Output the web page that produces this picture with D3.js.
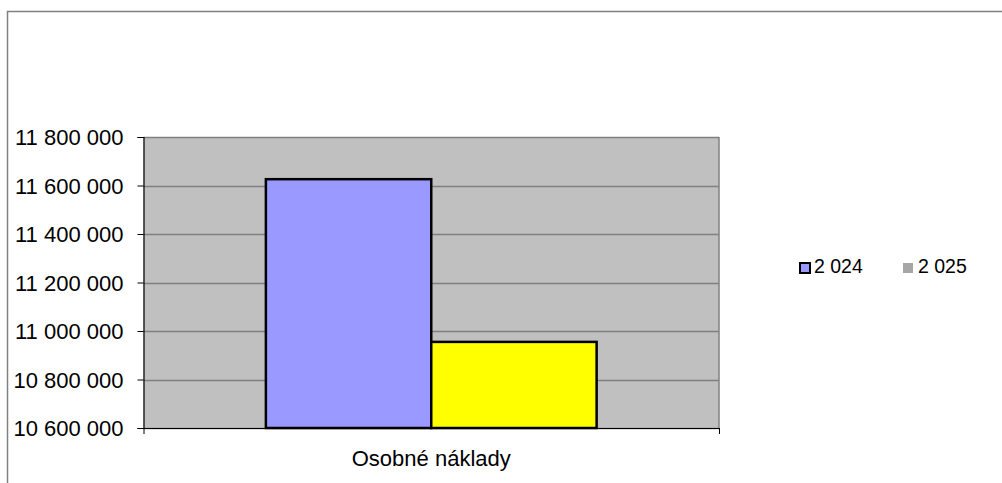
<!DOCTYPE html>
<html>
<head>
<meta charset="utf-8">
<title>Osobné náklady</title>
<style>
body {
  margin: 0;
  padding: 0;
  background: #fff;
  font-family: "Liberation Sans", Arial, sans-serif;
}
svg { display: block; }
.tick-label { font-size: 22px; fill: #000; }
.cat-label { font-size: 22px; fill: #000; }
.legend-label { font-size: 19.5px; fill: #000; }
</style>
<script src="https://d3js.org/d3.v7.min.js"></script>
</head>
<body>
<svg id="chart" width="1002" height="483"></svg>
<script>
  // data
  const categories = ["Osobné náklady"];
  const seriesNames = ["2 024", "2 025"];
  const values2024 = [11626000];
  const values2025 = [10955000];
  const yTicks = [10600000, 10800000, 11000000, 11200000, 11400000, 11600000, 11800000];

  const barColors = ["#9999ff", "#ffff00"];
  const legendColors = ["#9999ff", "#a6a6a6"];

  const svg = d3.select("#chart");
  const plot = { left: 143.5, right: 719, top: 137, bottom: 428 };

  // outer frame
  svg.append("rect")
    .attr("x", 7.5).attr("y", 11.5)
    .attr("width", 1100).attr("height", 600)
    .attr("fill", "none")
    .attr("stroke", "#808080")
    .attr("stroke-width", 1.5);

  const y = d3.scaleLinear()
    .domain([yTicks[0], yTicks[yTicks.length - 1]])
    .range([plot.bottom, plot.top]);

  const x0 = d3.scaleBand()
    .domain(categories)
    .range([plot.left, plot.right])
    .paddingOuter(0.37);

  const x1 = d3.scaleBand()
    .domain(seriesNames)
    .range([0, x0.bandwidth()]);

  const fmt = d3.formatLocale({ decimal: ",", thousands: " ", grouping: [3] }).format(",d");

  // plot background
  svg.append("rect")
    .attr("x", plot.left).attr("y", plot.top)
    .attr("width", plot.right - plot.left)
    .attr("height", plot.bottom - plot.top)
    .attr("fill", "#c0c0c0");

  // gridlines
  svg.append("g")
    .selectAll("line")
    .data(yTicks)
    .enter().append("line")
    .attr("x1", plot.left).attr("x2", plot.right)
    .attr("y1", d => Math.round(y(d)) + 0.5)
    .attr("y2", d => Math.round(y(d)) + 0.5)
    .attr("stroke", "#808080")
    .attr("stroke-width", 1.3);

  // right edge of plot area
  svg.append("line")
    .attr("x1", plot.right).attr("x2", plot.right)
    .attr("y1", plot.top).attr("y2", plot.bottom)
    .attr("stroke", "#808080")
    .attr("stroke-width", 1.5);

  // bars
  const rows = categories.map((c, i) => ({ cat: c, vals: [values2024[i], values2025[i]] }));
  svg.append("g")
    .selectAll("g")
    .data(rows)
    .enter().append("g")
    .attr("transform", d => `translate(${x0(d.cat)},0)`)
    .selectAll("rect")
    .data(d => d.vals.map((v, j) => ({ name: seriesNames[j], v: v, j: j })))
    .enter().append("rect")
    .attr("x", d => x1(d.name))
    .attr("width", x1.bandwidth())
    .attr("y", d => y(d.v))
    .attr("height", d => y(yTicks[0]) - y(d.v))
    .attr("fill", d => barColors[d.j])
    .attr("stroke", "#000")
    .attr("stroke-width", 2.5);

  // y axis
  const yAxis = d3.axisLeft(y)
    .tickValues(yTicks)
    .tickFormat(fmt)
    .tickSize(6)
    .tickPadding(14);
  const gy = svg.append("g")
    .attr("transform", `translate(${plot.left},0)`)
    .call(yAxis);
  gy.select(".domain").attr("stroke", "#000").attr("stroke-width", 1.2);
  gy.selectAll(".tick line").attr("stroke", "#000");
  gy.selectAll(".tick text")
    .attr("class", "tick-label")
    .attr("font-family", null)
    .attr("font-size", null)
    .attr("dy", "0.36em");

  // x axis
  const xAxis = d3.axisBottom(d3.scaleLinear().domain([0, 1]).range([plot.left, plot.right]))
    .tickValues([0, 1])
    .tickFormat("")
    .tickSize(6)
    .tickSizeOuter(0);
  const gx = svg.append("g")
    .attr("transform", `translate(0,${plot.bottom})`)
    .call(xAxis);
  gx.select(".domain").attr("stroke", "#000").attr("stroke-width", 1.2);
  gx.selectAll(".tick line").attr("stroke", "#000");

  svg.append("g")
    .selectAll("text")
    .data(categories)
    .enter().append("text")
    .attr("class", "cat-label")
    .attr("x", d => x0(d) + x0.bandwidth() / 2)
    .attr("y", 466)
    .attr("text-anchor", "middle")
    .text(d => d);

  // legend
  const legendX = [799, 903];
  const legend = svg.append("g")
    .selectAll("g")
    .data(seriesNames)
    .enter().append("g")
    .attr("transform", (d, i) => `translate(${legendX[i]},262)`);
  legend.append("rect")
    .attr("x", (d, i) => i === 0 ? 1 : 0)
    .attr("y", 1)
    .attr("width", 10)
    .attr("height", 10)
    .attr("fill", (d, i) => legendColors[i])
    .attr("stroke", (d, i) => i === 0 ? "#000" : "none")
    .attr("stroke-width", 2);
  legend.append("text")
    .attr("class", "legend-label")
    .attr("x", 15)
    .attr("y", 11)
    .text(d => d);
</script>
</body>
</html>
